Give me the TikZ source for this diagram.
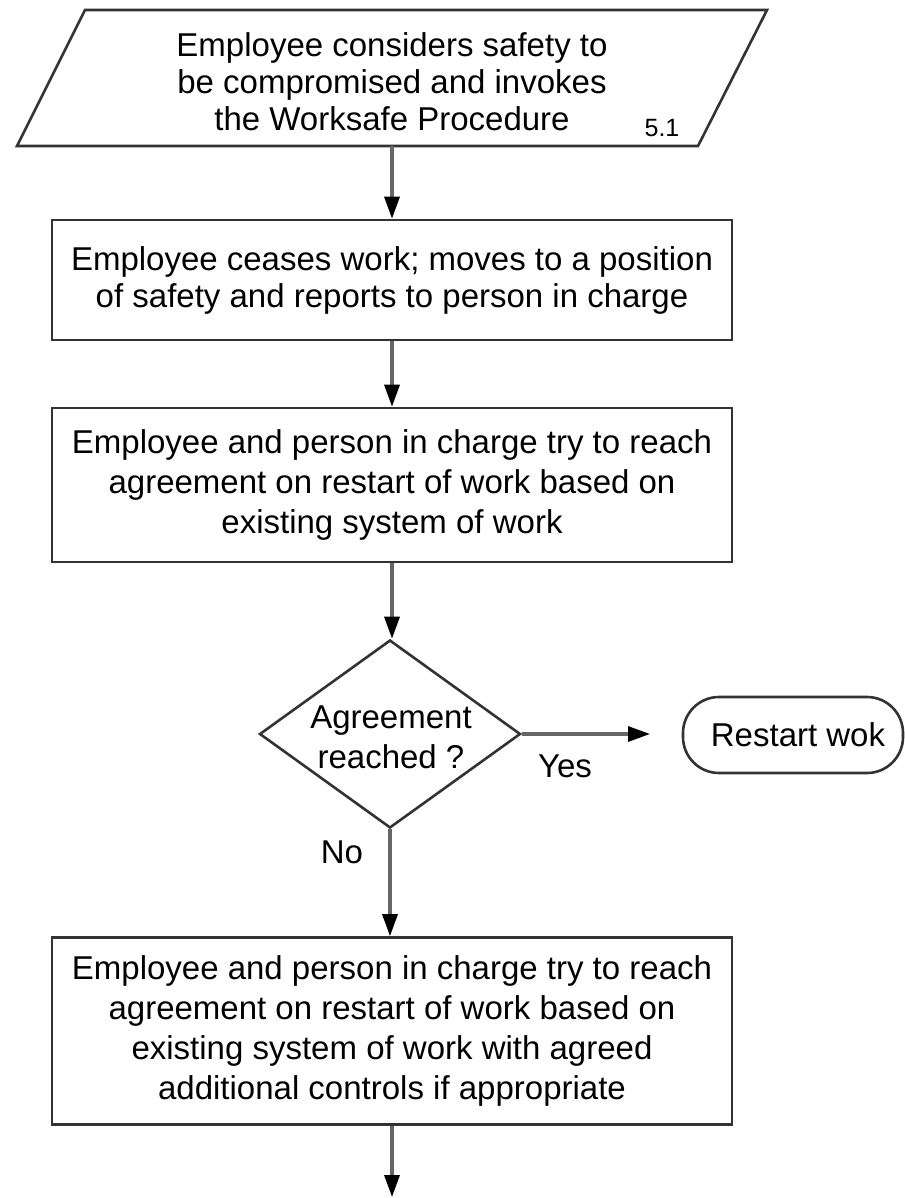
\documentclass[tikz,border=0pt]{standalone}
\usepackage{fontspec}
\setmainfont{Liberation Sans}
\usetikzlibrary{shapes.geometric,arrows.meta}
\tikzset{
  txt/.style={align=center,font=\fontsize{33}{37}\selectfont,inner sep=0pt},
  txtw/.style={align=center,font=\fontsize{33}{40}\selectfont,inner sep=0pt},
  outline/.style={draw=black!80,line width=2.6pt,fill=white},
  procbox/.style={outline,rectangle,minimum width=680pt,minimum height=#1},
  arr/.style={draw=black!60,line width=3.2pt,-{Triangle[length=22pt,width=15pt,color=black]}},
  lbl/.style={font=\fontsize{33}{37}\selectfont,inner sep=0pt},
}
\begin{document}
\begin{tikzpicture}[x=1pt,y=-1pt]
\useasboundingbox (0,0) rectangle (904,1198);
% parallelogram
\coordinate (pa) at (85,10);
\coordinate (pb) at (767,10);
\coordinate (pc) at (698,146);
\coordinate (pd) at (17,146);
\draw[outline] (pa)--(pb)--(pc)--(pd)--cycle;
\node[txt] (p) at (392,82) {Employee considers safety to\\be compromised and invokes\\the Worksafe Procedure};
\node[lbl,font=\fontsize{25}{28}\selectfont] (pnum) at (662,128) {5.1};
\coordinate (pbot) at (392,146);
% boxes
\node[procbox=120pt,txt] (b2) at (392,280) {Employee ceases work; moves to a position\\of safety and reports to person in charge};
\node[procbox=154pt,txtw] (b3) at (392,485) {Employee and person in charge try to reach\\agreement on restart of work based on\\existing system of work};
\node[diamond,outline,minimum width=261pt,minimum height=188pt,inner sep=0pt] (d) at (390,734) {};
\node[txtw] (dt) at (391,737) {Agreement\\reached ?};
\node[outline,rectangle,rounded corners=36pt,minimum width=220pt,minimum height=76pt,txt] (rw) at (793,735) {\hspace*{10pt}Restart wok};
\node[procbox=187pt,txtw] (b4) at (392,1031) {Employee and person in charge try to reach\\agreement on restart of work based on\\existing system of work with agreed\\additional controls if appropriate};
\coordinate (end) at (392,1197);
\coordinate (yesend) at (650,734);
% connectors
\draw[arr] (pbot) -- (b2.north);
\draw[arr] (b2.south) -- (b3.north);
\draw[arr] (b3.south) -- (b3.south |- d.north);
\draw[arr] (d.east) -- (yesend);
\draw[arr] (d.south) -- (d.south |- b4.north);
\draw[arr] (b4.south) -- (end);
\node[lbl] (yes) at (565,766) {Yes};
\node[lbl] (no) at (342,852) {No};
\end{tikzpicture}
\end{document}
